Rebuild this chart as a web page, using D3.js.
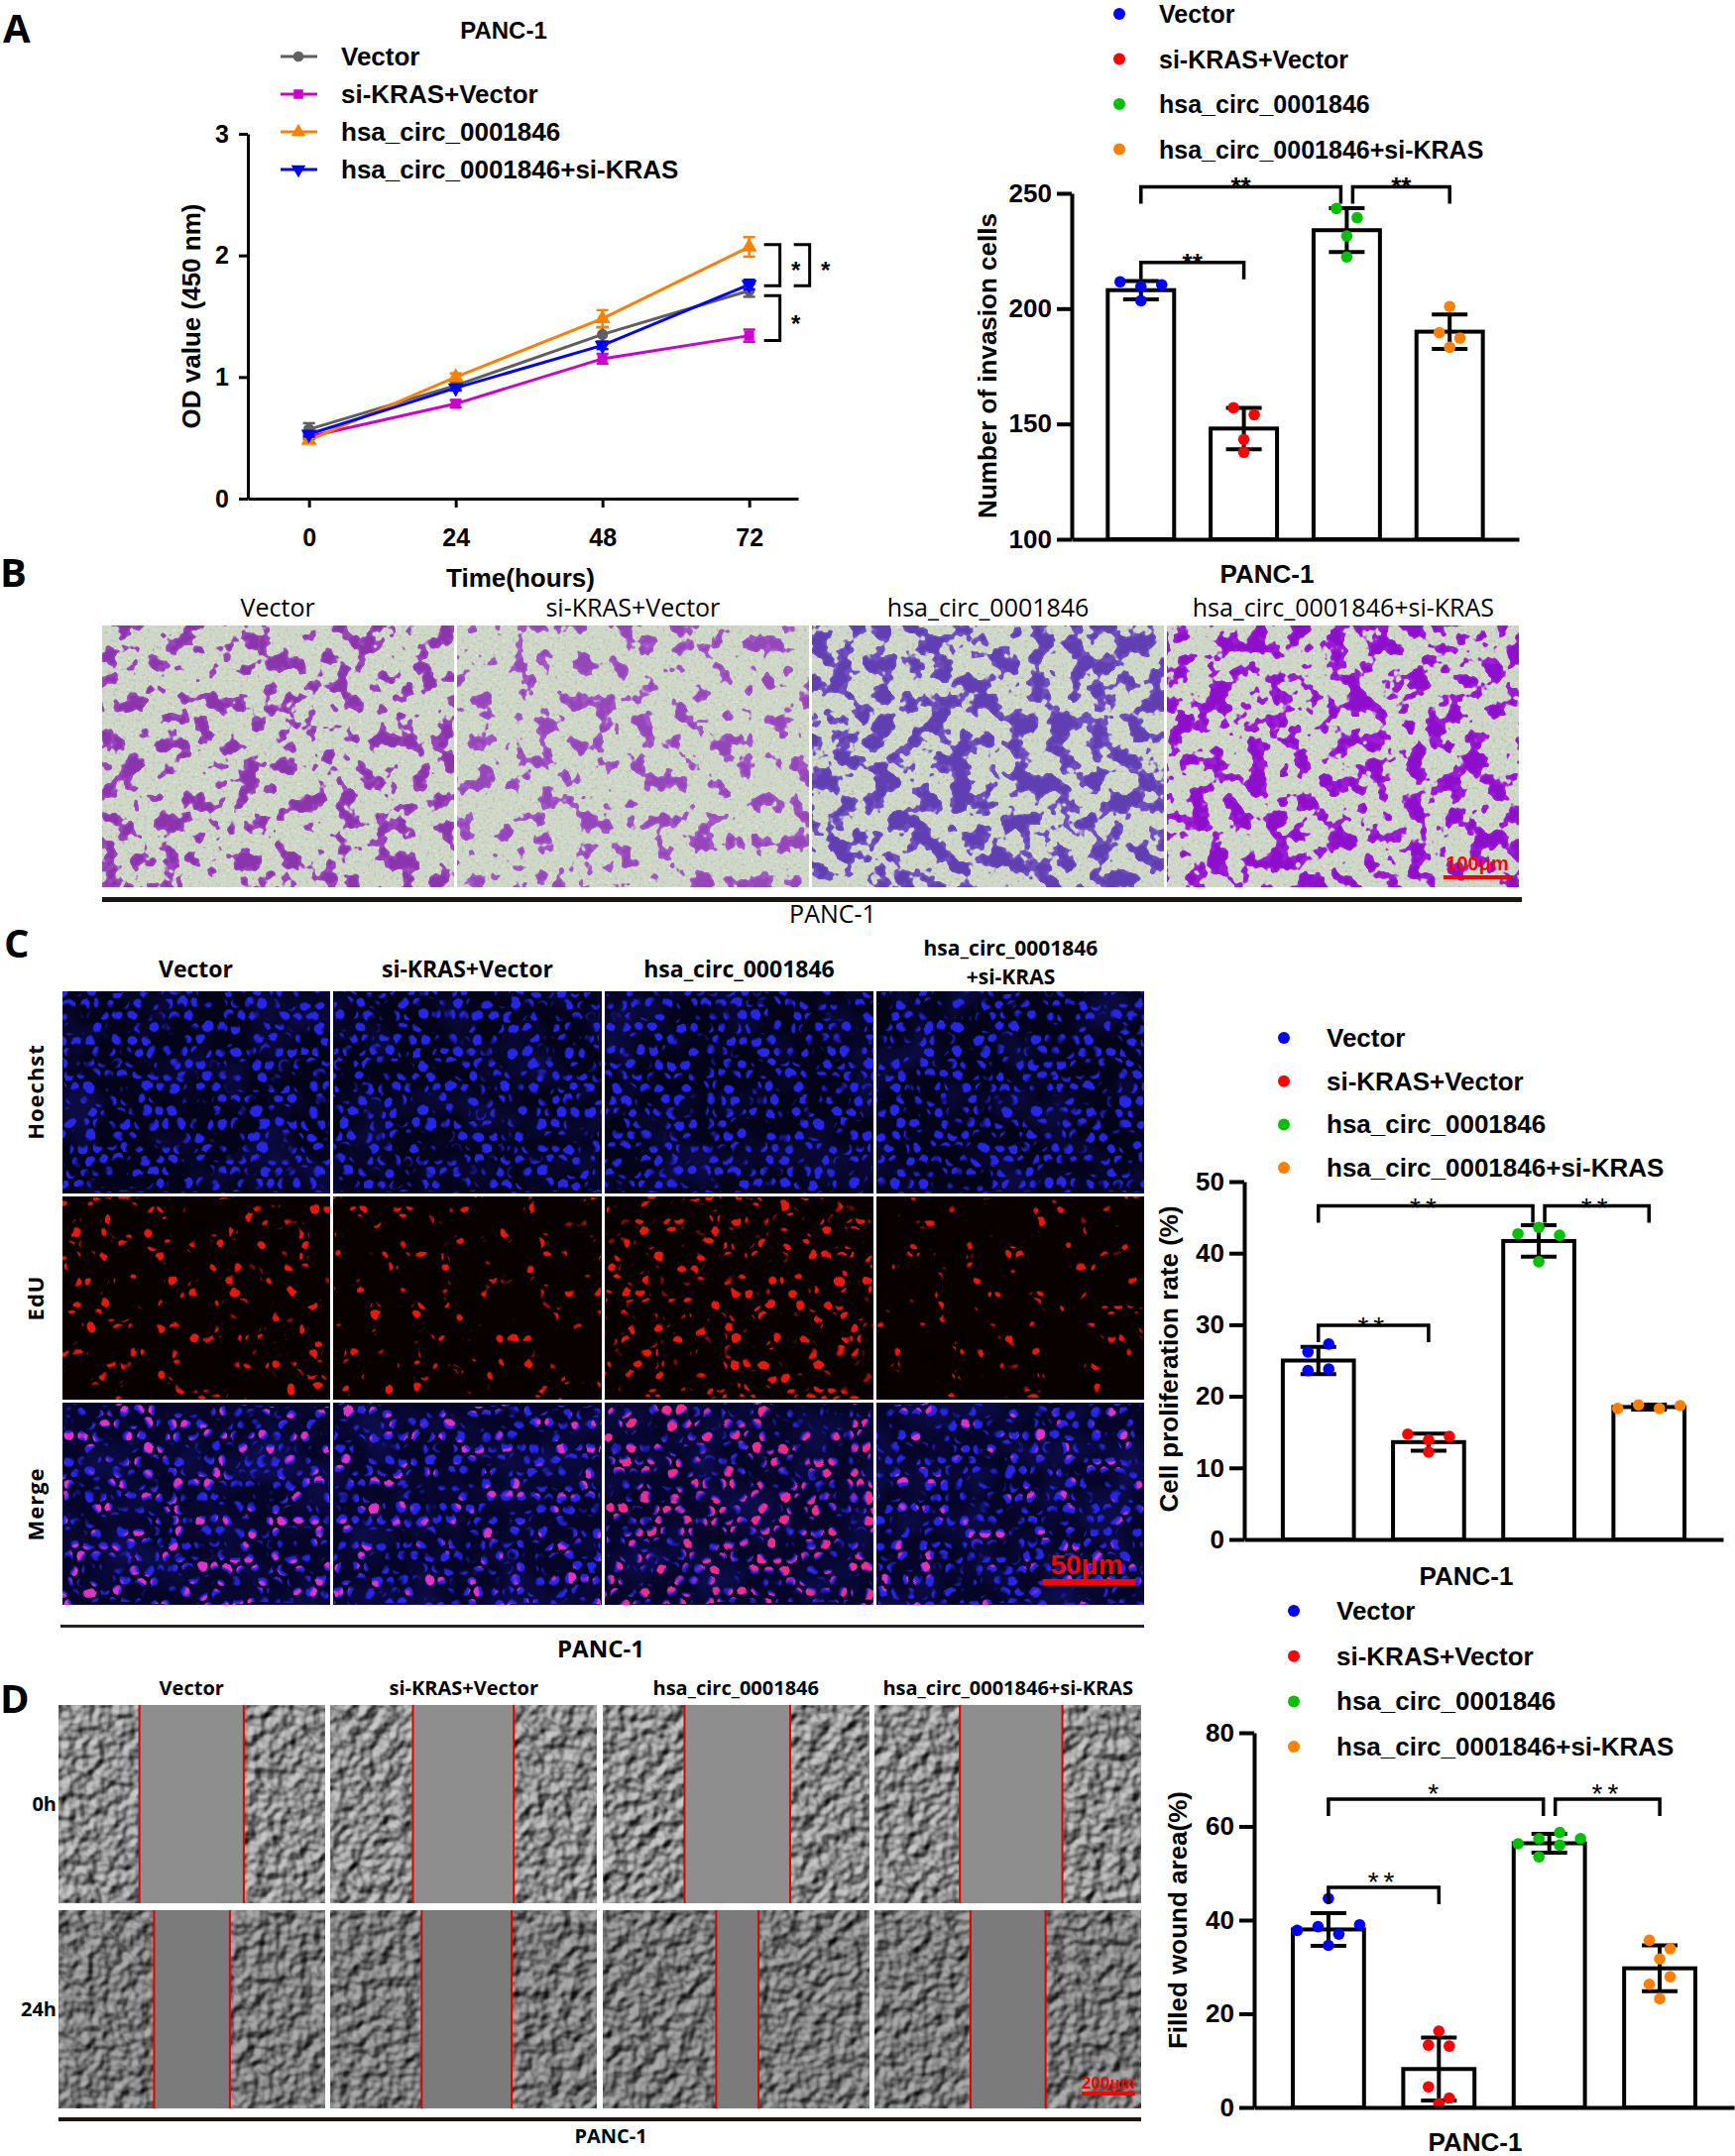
<!DOCTYPE html>
<html>
<head>
<meta charset="utf-8">
<script src="https://d3js.org/d3.v7.min.js"></script>
<style>
  body { margin: 0; background: #fff; }
</style>
</head>
<body>
<script>
// ---------- values ----------
var groups = ["Vector", "si-KRAS+Vector", "hsa_circ_0001846", "hsa_circ_0001846+si-KRAS"];
var dotColors = ["#0000ff", "#ff0000", "#00c000", "#ff8000"];

// A: CCK-8, OD 450 nm
var hours = [0, 24, 48, 72];
var odTicks = [0, 1, 2, 3];
var odVector = [0.57, 0.93, 1.35, 1.71];
var odSiKras = [0.51, 0.78, 1.15, 1.34];
var odCirc = [0.48, 1.00, 1.48, 2.07];
var odCircSiKras = [0.53, 0.91, 1.26, 1.76];
var odVectorErr = [0.05, 0.03, 0.06, 0.05];
var odSiKrasErr = [0.02, 0.03, 0.04, 0.05];
var odCircErr = [0.02, 0.03, 0.07, 0.08];
var odCircSiKrasErr = [0.02, 0.02, 0.03, 0.04];
var lineColors = ["#5f5f5f", "#cc00cc", "#ff8000", "#0000ff"];
var odSigTop = [2.09, 2.09, 1.67];
var odSigBottom = [1.75, 1.75, 1.30];
var odSigLabel = ["*", "*", "*"];

// A: invasion
var invasionTicks = [100, 150, 200, 250];
var invasionMean = [208, 148, 234, 190];
var invasionSD = [4, 9, 9.5, 7.5];
var invasionPoints = [
  [211.6, 209.6, 210.3, 203.4],
  [157, 154, 143.3, 137.7],
  [243.4, 239.4, 231.5, 222.4],
  [183.2, 200.9, 189.6, 187.2]
];
var invasionSig = [[0, 2, "**", 252.8], [2, 3, "**", 252.8], [0, 1, "**", 220]];

// C: EdU proliferation
var prolifTicks = [0, 10, 20, 30, 40, 50];
var prolifMean = [25.0, 13.6, 41.7, 18.5];
var prolifSD = [1.9, 1.2, 2.2, 0.35];
var prolifPoints = [
  [23.6, 26.2, 27.3, 23.8],
  [14.7, 13.9, 14.4, 12.2],
  [42.7, 43.6, 42.5, 38.8],
  [18.3, 18.8, 18.3, 18.7]
];
var prolifSig = [[0, 2, "**", 46.6], [2, 3, "**", 46.6], [0, 1, "**", 29.9]];

// D: wound healing
var woundTicks = [0, 20, 40, 60, 80];
var woundMean = [38.0, 8.2, 56.4, 29.7];
var woundSD = [3.5, 6.7, 2.0, 4.9];
var woundPoints = [
  [37.8, 34.6, 38.6, 44.6, 37.0, 39.0],
  [16.3, 13.3, 0.8, 4.4, 13.1, 2.0],
  [56.3, 57.4, 53.5, 58.7, 56.0, 57.4],
  [35.7, 23.2, 31.7, 26.3, 33.9, 27.9]
];
var woundSig = [[0, 2, "*", 65.8], [2, 3, "**", 65.8], [0, 1, "**", 47]];

// image panels
var edUChannels = ["Hoechst", "EdU", "Merge"];
var woundTimes = ["0h", "24h"];
var woundEdges0h = [[0.304, 0.696], [0.309, 0.688], [0.307, 0.704], [0.319, 0.704]];
var woundEdges24h = [[0.359, 0.644], [0.342, 0.680], [0.426, 0.585], [0.359, 0.641]];

// ---------- drawing ----------
var svg = d3.select("body").append("svg")
    .attr("width", 1750)
    .attr("height", 2175)
    .style("font-family", "'Liberation Sans', Arial, sans-serif");

var defs = svg.append("defs");

function panelLetter(t, x, y) {
  svg.append("text").attr("x", x).attr("y", y)
    .attr("font-family", "'Open Sans', sans-serif")
    .attr("font-weight", "bold").attr("font-size", "40px").text(t);
}

function newFilter(id) {
  return defs.append("filter").attr("id", id)
    .attr("x", 0).attr("y", 0).attr("width", 1).attr("height", 1)
    .attr("color-interpolation-filters", "sRGB");
}

// thresholded noise layer: colour where the noise passes t
function noiseLayer(f, L, name) {
  f.append("feTurbulence").attr("type", "fractalNoise")
    .attr("baseFrequency", L.freq).attr("numOctaves", L.oct).attr("seed", L.seed)
    .attr("result", name + "n");
  var c = d3.rgb(L.color), k = L.k;
  f.append("feColorMatrix").attr("in", name + "n").attr("type", "matrix")
    .attr("values", [0, 0, 0, 0, c.r / 255, 0, 0, 0, 0, c.g / 255, 0, 0, 0, 0, c.b / 255, 0, 0, 0, k, -k * L.t].join(" "))
    .attr("result", name + "m");
  var ct = f.append("feComponentTransfer").attr("in", name + "m").attr("result", name);
  ct.append("feFuncA").attr("type", "linear").attr("slope", L.alpha == null ? 1 : L.alpha).attr("intercept", 0);
}

function textureFilter(id, bg, layers) {
  var f = newFilter(id);
  f.append("feFlood").attr("flood-color", bg).attr("result", "bg");
  var names = ["bg"];
  layers.forEach(function (L, i) { noiseLayer(f, L, "L" + i); names.push("L" + i); });
  var m = f.append("feMerge");
  names.forEach(function (n) { m.append("feMergeNode").attr("in", n); });
}

// embossed relief, for the phase-contrast wound images
function reliefFilter(id, seed, light) {
  var f = newFilter(id);
  f.append("feTurbulence").attr("type", "fractalNoise")
    .attr("baseFrequency", 0.075).attr("numOctaves", 2).attr("seed", seed).attr("result", "n");
  f.append("feDiffuseLighting").attr("in", "n").attr("surfaceScale", 5)
    .attr("diffuseConstant", 1).attr("lighting-color", light)
    .append("feDistantLight").attr("azimuth", 225).attr("elevation", 45);
}

// nuclei: a lattice of round dots, jittered by noise and thinned by a noise mask
function nucleiFilter(id, seed, t, k) {
  var f = newFilter(id);
  f.append("feTurbulence").attr("type", "fractalNoise")
    .attr("baseFrequency", 0.03).attr("numOctaves", 1).attr("seed", seed).attr("result", "d");
  f.append("feDisplacementMap").attr("in", "SourceGraphic").attr("in2", "d").attr("scale", 12)
    .attr("xChannelSelector", "R").attr("yChannelSelector", "G").attr("result", "moved");
  f.append("feTurbulence").attr("type", "fractalNoise")
    .attr("baseFrequency", 0.07).attr("numOctaves", 1).attr("seed", seed + 50).attr("result", "m");
  f.append("feColorMatrix").attr("in", "m").attr("type", "matrix")
    .attr("values", "0 0 0 0 0 0 0 0 0 0 0 0 0 0 0 0 0 0 " + k + " " + (-k * t)).attr("result", "mask");
  f.append("feComposite").attr("in", "moved").attr("in2", "mask").attr("operator", "in");
}

function dotPattern(id, color) {
  var s = 14, h = s * Math.sqrt(3) / 2;
  var p = defs.append("pattern").attr("id", id).attr("patternUnits", "userSpaceOnUse")
    .attr("width", 2 * s).attr("height", 2 * h);
  var pts = [];
  d3.range(3).forEach(function (j) {
    d3.range(3).forEach(function (i) { pts.push([i * s + (j % 2 ? 0 : s / 2), j * h + h / 2, (i + j) % 2]); });
  });
  p.selectAll("circle").data(pts).join("circle")
    .attr("cx", function (d) { return d[0]; }).attr("cy", function (d) { return d[1]; })
    .attr("r", function (d) { return d[2] ? 4.6 : 5.4; }).attr("fill", color);
}

// beeswarm-like rows, the way Prism spreads replicate points
function swarm(values, y, d, s) {
  var items = values.map(function (v, i) { return { v: v, i: i }; });
  var sorted = items.slice().sort(function (a, b) { return b.v - a.v; });
  var rows = [], cur = null;
  sorted.forEach(function (p) {
    if (cur && Math.abs(y(p.v) - y(cur[0].v)) < d) cur.push(p);
    else { cur = [p]; rows.push(cur); }
  });
  rows.forEach(function (r) {
    r.sort(function (a, b) { return a.i - b.i; });
    r.forEach(function (p, k) { p.dx = (k - (r.length - 1) / 2) * s; });
  });
  return items;
}

function styleAxis(sel, size, width) {
  sel.select(".domain").attr("stroke-width", width).attr("stroke", "#000");
  sel.selectAll(".tick line").attr("stroke-width", width).attr("stroke", "#000");
  sel.selectAll(".tick text").attr("font-size", size).attr("font-weight", "bold")
    .attr("font-family", "'Liberation Sans', Arial, sans-serif").attr("fill", "#000");
}

// ---------- A: line chart ----------
(function () {
  var series = [odVector, odSiKras, odCirc, odCircSiKras];
  var errs = [odVectorErr, odSiKrasErr, odCircErr, odCircSiKrasErr];
  var symbols = [d3.symbolCircle, d3.symbolSquare, d3.symbolTriangle, d3.symbolTriangle];
  var rot = [0, 0, 0, 180];
  var x = d3.scaleLinear().domain([-10, 80]).range([250, 805]);
  var y = d3.scaleLinear().domain([0, 3]).range([503, 135]);
  var g = svg.append("g");

  g.append("g").attr("transform", "translate(0,503)")
    .call(d3.axisBottom(x).tickValues(hours).tickSize(9).tickPadding(21).tickSizeOuter(0))
    .call(styleAxis, "25px", 3);
  g.append("g").attr("transform", "translate(250,0)")
    .call(d3.axisLeft(y).tickValues(odTicks).tickFormat(d3.format("d")).tickSize(9).tickPadding(10).tickSizeOuter(0))
    .call(styleAxis, "25px", 3);

  g.append("text").attr("transform", "translate(202,319) rotate(-90)")
    .attr("text-anchor", "middle").attr("font-weight", "bold").attr("font-size", "26px")
    .text("OD value (450 nm)");
  g.append("text").attr("x", 525).attr("y", 592)
    .attr("text-anchor", "middle").attr("font-weight", "bold").attr("font-size", "26px")
    .text("Time(hours)");
  g.append("text").attr("x", 508).attr("y", 39)
    .attr("text-anchor", "middle").attr("font-weight", "bold").attr("font-size", "24px")
    .text("PANC-1");

  var line = d3.line().x(function (d, i) { return x(hours[i]); }).y(function (d) { return y(d); });
  series.forEach(function (s, k) {
    g.append("path").datum(s).attr("d", line).attr("fill", "none")
      .attr("stroke", lineColors[k]).attr("stroke-width", 3);
  });
  series.forEach(function (s, k) {
    var e = g.append("g").attr("stroke", lineColors[k]).attr("stroke-width", 2.5);
    s.forEach(function (v, i) {
      var xx = x(hours[i]), lo = y(v - errs[k][i]), hi = y(v + errs[k][i]);
      e.append("line").attr("x1", xx).attr("x2", xx).attr("y1", lo).attr("y2", hi);
      e.append("line").attr("x1", xx - 6).attr("x2", xx + 6).attr("y1", hi).attr("y2", hi);
      e.append("line").attr("x1", xx - 6).attr("x2", xx + 6).attr("y1", lo).attr("y2", lo);
    });
    g.selectAll(null).data(s).join("path")
      .attr("transform", function (d, i) { return "translate(" + x(hours[i]) + "," + y(d) + ") rotate(" + rot[k] + ")"; })
      .attr("d", d3.symbol().type(symbols[k]).size(k >= 2 ? 110 : 100))
      .attr("fill", lineColors[k]);
  });

  // significance brackets at 72 h
  odSigTop.forEach(function (top, i) {
    var xv = x(72) + (i === 1 ? 61 : 31);
    var y1 = y(top), y2 = y(odSigBottom[i]);
    g.append("path").attr("d", "M" + (xv - 16) + "," + y1 + "H" + xv + "V" + y2 + "H" + (xv - 16))
      .attr("fill", "none").attr("stroke", "#000").attr("stroke-width", 3);
    g.append("text").attr("x", xv + 16).attr("y", (y1 + y2) / 2 + 14)
      .attr("text-anchor", "middle").attr("font-weight", "bold").attr("font-size", "24px")
      .text(odSigLabel[i]);
  });

  // legend
  groups.forEach(function (name, k) {
    var yy = 57 + k * 38;
    g.append("line").attr("x1", 283).attr("x2", 320).attr("y1", yy).attr("y2", yy)
      .attr("stroke", lineColors[k]).attr("stroke-width", 3);
    g.append("path").attr("transform", "translate(301," + yy + ") rotate(" + rot[k] + ")")
      .attr("d", d3.symbol().type(symbols[k]).size(90)).attr("fill", lineColors[k]);
    g.append("text").attr("x", 344).attr("y", yy).attr("dominant-baseline", "central")
      .attr("font-weight", "bold").attr("font-size", "26px").text(name);
  });
})();

// ---------- bar charts (A invasion, C EdU, D wound) ----------
function barChart(cfg) {
  var g = svg.append("g");
  var x = d3.scaleBand().domain(d3.range(groups.length)).range(cfg.xRange)
    .paddingInner(0.355).paddingOuter(0.35);
  var y = d3.scaleLinear().domain(cfg.domain).range(cfg.yRange);
  var base = y(cfg.domain[0]);
  var cx = function (i) { return x(i) + x.bandwidth() / 2; };

  g.selectAll("rect.bar").data(cfg.mean).join("rect").attr("class", "bar")
    .attr("x", function (d, i) { return x(i); })
    .attr("y", function (d) { return y(d); })
    .attr("width", x.bandwidth())
    .attr("height", function (d) { return base - y(d); })
    .attr("fill", "#fff").attr("stroke", "#000").attr("stroke-width", 4);

  var eb = g.append("g").attr("stroke", "#000").attr("stroke-width", 4);
  cfg.mean.forEach(function (m, i) {
    var hi = y(m + cfg.sd[i]), lo = y(m - cfg.sd[i]), c = cx(i);
    eb.append("line").attr("x1", c).attr("x2", c).attr("y1", lo).attr("y2", hi);
    eb.append("line").attr("x1", c - 18).attr("x2", c + 18).attr("y1", hi).attr("y2", hi);
    eb.append("line").attr("x1", c - 18).attr("x2", c + 18).attr("y1", lo).attr("y2", lo);
  });

  cfg.points.forEach(function (pts, i) {
    g.selectAll(null).data(swarm(pts, y, 12, 21)).join("circle")
      .attr("cx", function (d) { return cx(i) + d.dx; })
      .attr("cy", function (d) { return y(d.v); })
      .attr("r", 5.8).attr("fill", dotColors[i]);
  });

  g.append("g").attr("transform", "translate(" + cfg.xRange[0] + ",0)")
    .call(d3.axisLeft(y).tickValues(cfg.ticks).tickSize(15).tickPadding(5).tickSizeOuter(0))
    .call(styleAxis, "26px", 4);
  g.append("g").attr("transform", "translate(0," + base + ")")
    .call(d3.axisBottom(x).tickValues([]).tickSizeOuter(0))
    .call(styleAxis, "26px", 4);

  // significance brackets
  cfg.sig.forEach(function (s) {
    var shareL = cfg.sig.some(function (o) { return o !== s && o[1] === s[0] && o[3] === s[3]; });
    var shareR = cfg.sig.some(function (o) { return o !== s && o[0] === s[1] && o[3] === s[3]; });
    var x1 = cx(s[0]) + (shareL ? 6 : 0), x2 = cx(s[1]) - (shareR ? 6 : 0), yy = y(s[3]);
    g.append("path").attr("d", "M" + x1 + "," + (yy + 17) + "V" + yy + "H" + x2 + "V" + (yy + 17))
      .attr("fill", "none").attr("stroke", "#000").attr("stroke-width", 3.5);
    g.append("text").attr("x", (x1 + x2) / 2).attr("y", yy + cfg.starDy)
      .attr("text-anchor", "middle").attr("font-size", cfg.starSize)
      .attr("font-weight", cfg.starWeight).attr("letter-spacing", cfg.starSpacing)
      .text(s[2]);
  });

  g.append("text").attr("transform", "translate(" + cfg.yTitle[0] + "," + cfg.yTitle[1] + ") rotate(-90)")
    .attr("text-anchor", "middle").attr("font-weight", "bold").attr("font-size", "26px")
    .text(cfg.yLabel);
  g.append("text").attr("x", cfg.xTitle[0]).attr("y", cfg.xTitle[1])
    .attr("text-anchor", "middle").attr("font-weight", "bold").attr("font-size", "26px")
    .text("PANC-1");

  groups.forEach(function (name, k) {
    var yy = cfg.legend[2] + k * cfg.legend[3];
    g.append("circle").attr("cx", cfg.legend[0]).attr("cy", yy).attr("r", 6).attr("fill", dotColors[k]);
    g.append("text").attr("x", cfg.legend[1]).attr("y", yy).attr("dominant-baseline", "central")
      .attr("font-weight", "bold").attr("font-size", cfg.legendSize).text(name);
  });
}

barChart({
  xRange: [1081, 1532], yRange: [544, 195], domain: [100, 250], ticks: invasionTicks,
  mean: invasionMean, sd: invasionSD, points: invasionPoints, sig: invasionSig,
  starDy: 9, starSize: "26px", starWeight: "bold", starSpacing: 0,
  yLabel: "Number of invasion cells", yTitle: [1005, 369], xTitle: [1278, 588],
  legend: [1129, 1169, 14, 45.5], legendSize: "25px"
});
barChart({
  xRange: [1255, 1738], yRange: [1553, 1192], domain: [0, 50], ticks: prolifTicks,
  mean: prolifMean, sd: prolifSD, points: prolifPoints, sig: prolifSig,
  starDy: 11, starSize: "28px", starWeight: "normal", starSpacing: 5,
  yLabel: "Cell proliferation rate (%)", yTitle: [1188, 1371], xTitle: [1479, 1599],
  legend: [1295, 1338, 1047, 43.7], legendSize: "26px"
});
barChart({
  xRange: [1265, 1749], yRange: [2126, 1748], domain: [0, 80], ticks: woundTicks,
  mean: woundMean, sd: woundSD, points: woundPoints, sig: woundSig,
  starDy: 4, starSize: "28px", starWeight: "normal", starSpacing: 5,
  yLabel: "Filled wound area(%)", yTitle: [1197, 1937], xTitle: [1488, 2170],
  legend: [1305, 1348, 1625, 45.7], legendSize: "26px"
});

// ---------- B: transwell micrographs ----------
(function () {
  var look = [
    { blob: "#9c44bc", core: "#7e2aa4", t: 0.55, seed: 11 },
    { blob: "#a456c6", core: "#8c3cb4", t: 0.58, seed: 23 },
    { blob: "#7050c0", core: "#5534a8", t: 0.5, seed: 37 },
    { blob: "#9c1cd6", core: "#8406c4", t: 0.525, seed: 41 }
  ];
  var xb = d3.scaleBand().domain(d3.range(4)).range([103, 1532]).paddingInner(0.011);
  groups.forEach(function (name, c) {
    var L = look[c];
    textureFilter("tw" + c, "#cfd7c8", [
      { freq: 0.35, oct: 1, seed: L.seed + 5, t: 0.55, k: 5, color: "#9aa48e", alpha: 0.35 },
      { freq: 0.4, oct: 1, seed: L.seed + 9, t: 0.62, k: 8, color: "#eef2dc", alpha: 0.6 },
      { freq: 0.05, oct: 3, seed: L.seed, t: L.t, k: 30, color: L.blob },
      { freq: 0.05, oct: 3, seed: L.seed, t: L.t + 0.07, k: 20, color: L.core, alpha: 0.6 }
    ]);
    svg.append("rect").attr("x", xb(c)).attr("y", 631)
      .attr("width", xb.bandwidth()).attr("height", 264)
      .attr("fill", "#cfd7c8").attr("filter", "url(#tw" + c + ")");
    svg.append("text").attr("x", xb(c) + xb.bandwidth() / 2).attr("y", 622)
      .attr("text-anchor", "middle").attr("font-family", "'Open Sans', sans-serif")
      .attr("font-size", "25px").text(name);
  });
  svg.append("rect").attr("x", 103).attr("y", 905).attr("width", 1432).attr("height", 5).attr("fill", "#1e1412");
  svg.append("text").attr("x", 840).attr("y", 931).attr("text-anchor", "middle")
    .attr("font-family", "'Open Sans', sans-serif").attr("font-size", "25px").text("PANC-1");
  svg.append("text").attr("x", 1490).attr("y", 878).attr("text-anchor", "middle")
    .attr("font-weight", "bold").attr("font-size", "20px").attr("fill", "#ff0000").text("100μm");
  svg.append("rect").attr("x", 1456).attr("y", 883).attr("width", 70).attr("height", 4).attr("fill", "#ff0000");
})();

// ---------- C: EdU micrographs ----------
(function () {
  var edT = [0.59, 0.62, 0.55, 0.63];
  dotPattern("dotBlue", "#2626e8");
  dotPattern("dotRed", "#e61a0c");
  dotPattern("dotPink", "#e432bc");
  dotPattern("dotRose", "#f42c84");
  var xb = d3.scaleBand().domain(d3.range(4)).range([63, 1154]).paddingInner(0.018);
  var yb = d3.scaleBand().domain(d3.range(3)).range([1000, 1619]).paddingInner(0.024);
  var haze = { freq: 0.02, oct: 2, seed: 100, t: 0.45, k: 3, color: "#1c1c90", alpha: 0.35 };
  textureFilter("hoeBg", "#03031a", [haze]);
  textureFilter("eduBg", "#080000", []);
  textureFilter("mrgBg", "#05052a", [haze]);
  groups.forEach(function (name, c) {
    nucleiFilter("nucH" + c, 200 + c * 7, 0.47, 12);
    nucleiFilter("nucE" + c, 200 + c * 7, edT[c], 16);
    var layers = [["hoeBg", "dotBlue", "nucH"], ["eduBg", "dotRed", "nucE"], ["mrgBg", "dotBlue", "nucH"]];
    layers.forEach(function (Lr, r) {
      var box = { x: xb(c), y: yb(r), width: xb.bandwidth(), height: yb.bandwidth() };
      svg.append("rect").attr("x", box.x).attr("y", box.y).attr("width", box.width).attr("height", box.height)
        .attr("fill", "#000").attr("filter", "url(#" + Lr[0] + ")");
      svg.append("rect").attr("x", box.x).attr("y", box.y).attr("width", box.width).attr("height", box.height)
        .attr("fill", "url(#" + Lr[1] + ")").attr("filter", "url(#" + Lr[2] + c + ")");
      if (r === 2) {
        svg.append("rect").attr("x", box.x).attr("y", box.y).attr("width", box.width).attr("height", box.height)
          .attr("fill", c === 2 ? "url(#dotRose)" : "url(#dotPink)").attr("filter", "url(#nucE" + c + ")");
      }
    });
    var lab = svg.append("text").attr("x", xb(c) + xb.bandwidth() / 2)
      .attr("text-anchor", "middle").attr("font-family", "'Open Sans', sans-serif")
      .attr("font-weight", "bold");
    if (c === 3) {
      lab.attr("y", 964).attr("font-size", "21px");
      lab.append("tspan").attr("x", xb(c) + xb.bandwidth() / 2).text("hsa_circ_0001846");
      lab.append("tspan").attr("x", xb(c) + xb.bandwidth() / 2).attr("dy", 29).text("+si-KRAS");
    } else {
      lab.attr("y", 986).attr("font-size", "23px").text(name);
    }
  });
  edUChannels.forEach(function (ch, r) {
    svg.append("text").attr("transform", "translate(44," + (yb(r) + yb.bandwidth() / 2) + ") rotate(-90)")
      .attr("text-anchor", "middle").attr("font-family", "'Open Sans', sans-serif")
      .attr("font-weight", "bold").attr("font-size", "22px").attr("letter-spacing", 1).text(ch);
  });
  svg.append("rect").attr("x", 61).attr("y", 1639).attr("width", 1093).attr("height", 3).attr("fill", "#222");
  svg.append("text").attr("x", 606).attr("y", 1672).attr("text-anchor", "middle")
    .attr("font-family", "'Open Sans', sans-serif").attr("font-weight", "bold")
    .attr("font-size", "24px").text("PANC-1");
  svg.append("text").attr("x", 1096).attr("y", 1588).attr("text-anchor", "middle")
    .attr("font-weight", "bold").attr("font-size", "28px").attr("fill", "#ff0000").text("50μm");
  svg.append("rect").attr("x", 1052).attr("y", 1593).attr("width", 93).attr("height", 6).attr("fill", "#ff0000");
})();

// ---------- D: wound-healing micrographs ----------
(function () {
  var edges = [woundEdges0h, woundEdges24h];
  var xb = d3.scaleBand().domain(d3.range(4)).range([59, 1151]).paddingInner(0.022);
  var yb = d3.scaleBand().domain(d3.range(2)).range([1720, 2127]).paddingInner(0.034);
  groups.forEach(function (name, c) {
    woundTimes.forEach(function (t, r) {
      var id = "wd" + r + c;
      reliefFilter(id, 500 + c * 7 + r, r === 0 ? "#cbcbcb" : "#b0b0b0");
      var x0 = xb(c), w = xb.bandwidth(), y0 = yb(r), h = yb.bandwidth();
      svg.append("rect").attr("x", x0).attr("y", y0).attr("width", w).attr("height", h)
        .attr("fill", "#888").attr("filter", "url(#" + id + ")");
      var e = edges[r][c];
      svg.append("rect").attr("x", x0 + e[0] * w).attr("y", y0)
        .attr("width", (e[1] - e[0]) * w).attr("height", h)
        .attr("fill", r === 0 ? "#8e8e8e" : "#7b7b7b");
      e.forEach(function (f) {
        svg.append("line").attr("x1", x0 + f * w).attr("x2", x0 + f * w)
          .attr("y1", y0).attr("y2", y0 + h).attr("stroke", "#e00000").attr("stroke-width", 2);
      });
    });
    svg.append("text").attr("x", xb(c) + xb.bandwidth() / 2).attr("y", 1710)
      .attr("text-anchor", "middle").attr("font-family", "'Open Sans', sans-serif")
      .attr("font-weight", "bold").attr("font-size", "20px").text(name);
  });
  woundTimes.forEach(function (t, r) {
    svg.append("text").attr("x", 57).attr("y", yb(r) + yb.bandwidth() / 2 + 7)
      .attr("text-anchor", "end").attr("font-family", "'Open Sans', sans-serif")
      .attr("font-weight", "bold").attr("font-size", "20px").text(t);
  });
  svg.append("rect").attr("x", 59).attr("y", 2136).attr("width", 1092).attr("height", 4).attr("fill", "#1e1412");
  svg.append("text").attr("x", 616).attr("y", 2162).attr("text-anchor", "middle")
    .attr("font-family", "'Open Sans', sans-serif").attr("font-weight", "bold")
    .attr("font-size", "20px").text("PANC-1");
  svg.append("text").attr("x", 1118).attr("y", 2107).attr("text-anchor", "middle")
    .attr("font-weight", "bold").attr("font-size", "17px").attr("fill", "#ff0000").text("200μm");
  svg.append("rect").attr("x", 1091).attr("y", 2110).attr("width", 54).attr("height", 4).attr("fill", "#ff0000");
})();

panelLetter("A", 3, 43);
panelLetter("B", 0, 592);
panelLetter("C", 4, 966);
panelLetter("D", 0, 1728);
</script>
</body>
</html>
